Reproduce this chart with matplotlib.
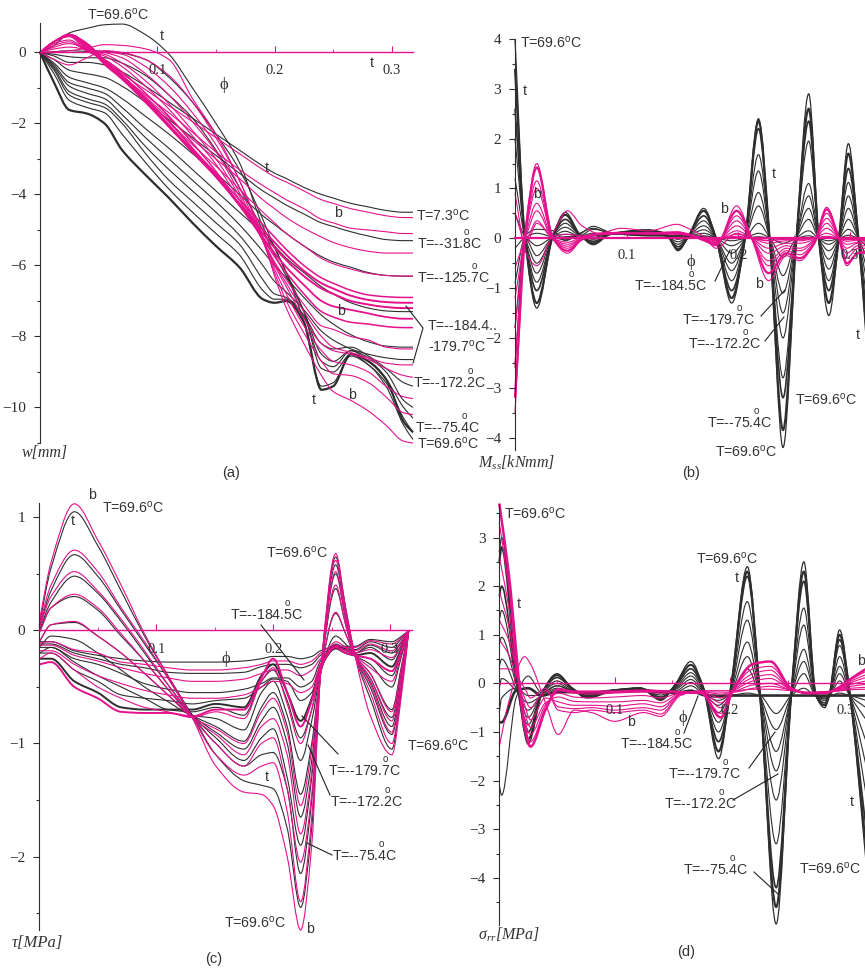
import matplotlib
matplotlib.use('Agg')
import matplotlib.pyplot as plt
import numpy as np
from matplotlib.lines import Line2D
from matplotlib.patches import PathPatch
from matplotlib.path import Path

W, H = 865, 971
BLACK = '#2e2e2e'
PINK = '#e5108c'
SANS = ['Liberation Sans', 'DejaVu Sans']
SERIF = ['Liberation Serif', 'DejaVu Serif']

plt.rcParams['mathtext.fontset'] = 'custom'
plt.rcParams['mathtext.it'] = 'Liberation Serif:italic'
plt.rcParams['mathtext.rm'] = 'Liberation Sans'

# (a) w[mm]
a_phi = [0, .012, .025, .04, .055, .07, .09, .11, .13, .15, .17, .19, .2, .21, .225, .24, .25, .265, .28, .295, .31, .318]
a_black = [
    [0, .2, .55, .68, .78, .8, .5, -.05, -1.0, -2.0, -3.1, -4.9, -5.5, -6.2, -7.6, -9.4, -9.3, -8.55, -8.8, -9.4, -10.5, -10.9],
    [0, .02, .05, .03, .03, -.02, -.2, -.7, -1.4, -2.3, -3.3, -4.7, -5.5, -6.2, -7.3, -8.9, -9.0, -8.5, -8.8, -9.3, -10.3, -10.7],
    [0, -.05, -.12, -.15, -.15, -.3, -.65, -1.2, -1.85, -2.75, -3.8, -5.0, -5.7, -6.3, -7.3, -8.5, -8.7, -8.4, -8.7, -9.2, -10.0, -10.3],
    [0, -.1, -.28, -.28, -.35, -.55, -.95, -1.4, -1.85, -2.3, -2.75, -3.2, -3.4, -3.55, -3.8, -4.0, -4.1, -4.25, -4.35, -4.45, -4.5, -4.5],
    [0, -.2, -.5, -.6, -.7, -.95, -1.4, -1.9, -2.4, -2.9, -3.4, -3.9, -4.1, -4.3, -4.55, -4.8, -4.9, -5.05, -5.17, -5.27, -5.3, -5.3],
    [0, -.3, -.7, -.85, -1.0, -1.3, -1.8, -2.3, -2.85, -3.4, -4.0, -4.6, -4.85, -5.1, -5.45, -5.75, -5.9, -6.05, -6.2, -6.28, -6.3, -6.3],
    [0, -.35, -.85, -1.0, -1.15, -1.55, -2.15, -2.7, -3.3, -3.9, -4.5, -5.1, -5.45, -5.8, -6.2, -6.6, -6.8, -7.05, -7.2, -7.28, -7.3, -7.3],
    [0, -.4, -.95, -1.15, -1.3, -1.75, -2.4, -3.0, -3.6, -4.2, -4.85, -5.6, -6.0, -6.35, -6.9, -7.4, -7.65, -7.95, -8.15, -8.27, -8.3, -8.3],
    [0, -.45, -1.1, -1.3, -1.45, -1.9, -2.65, -3.3, -3.9, -4.5, -5.15, -6.0, -6.45, -6.75, -7.25, -7.85, -8.1, -8.35, -8.5, -8.6, -8.65, -8.65],
    [0, -.5, -1.2, -1.4, -1.55, -2.0, -2.85, -3.6, -4.2, -4.8, -5.4, -6.4, -6.8, -6.9, -7.4, -8.2, -8.35, -8.3, -8.55, -8.9, -9.3, -9.4],
    [0, -.6, -1.35, -1.55, -1.7, -2.3, -3.1, -3.85, -4.5, -5.1, -5.7, -6.7, -6.95, -6.95, -7.45, -8.7, -8.85, -8.4, -8.6, -9.0, -9.8, -10.0],
    [0, -.85, -1.62, -1.72, -2.0, -2.75, -3.45, -4.1, -4.8, -5.45, -6.05, -6.95, -7.05, -7.0, -7.6, -9.5, -9.4, -8.5, -8.7, -9.2, -10.4, -10.7],
]
a_black_lw = [.8, .8, .8, .8, .8, .8, .8, .8, .8, .8, .8, 1.6]
a_pink = [
    [0, .02, .05, .12, .22, .2, .1, -.2, -1.3, -2.3, -3.6, -5.2, -6.3, -7.2, -8.2, -9.1, -9.55, -9.8, -10.1, -10.5, -10.95, -11],
    [0, -.2, -.35, -.15, .05, 0, -.2, -.65, -1.4, -2.4, -3.6, -5.3, -6.2, -7.0, -7.9, -8.7, -9.05, -9.1, -9.3, -9.7, -10.15, -10.2],
    [0, .1, .15, .08, .02, -.05, -.4, -.95, -1.7, -2.6, -3.8, -5.3, -6.1, -6.8, -7.7, -8.4, -8.7, -8.8, -9.0, -9.4, -9.7, -9.75],
    [0, .15, .25, .1, 0, -.15, -.6, -1.2, -1.95, -2.8, -3.95, -5.3, -6.0, -6.6, -7.5, -8.2, -8.4, -8.5, -8.65, -8.9, -9.1, -9.15],
    [0, .2, .3, .05, -.05, -.3, -.8, -1.45, -2.2, -3.0, -4.05, -5.3, -5.95, -6.5, -7.3, -8.0, -8.3, -8.45, -8.6, -8.75, -8.8, -8.8],
    [0, .25, .35, .05, -.1, -.4, -.95, -1.6, -2.35, -3.15, -4.15, -5.3, -5.9, -6.4, -7.1, -7.7, -7.8, -8.0, -8.1, -8.3, -8.35, -8.35],
    [0, .3, .45, .05, -.2, -.55, -1.15, -1.8, -2.55, -3.35, -4.3, -5.25, -5.75, -6.2, -6.8, -7.3, -7.45, -7.6, -7.65, -7.72, -7.75, -7.75],
    [0, .3, .5, .1, -.25, -.65, -1.3, -1.95, -2.7, -3.45, -4.3, -5.2, -5.65, -6.05, -6.55, -7.0, -7.15, -7.25, -7.35, -7.45, -7.5, -7.5],
    [0, .3, .5, .15, -.3, -.7, -1.35, -2.05, -2.8, -3.5, -4.3, -5.1, -5.5, -5.85, -6.3, -6.65, -6.8, -7.0, -7.1, -7.17, -7.2, -7.2],
    [0, .3, .5, .2, -.33, -.75, -1.4, -2.1, -2.8, -3.5, -4.25, -5.0, -5.35, -5.7, -6.15, -6.5, -6.65, -6.85, -6.97, -7.03, -7.05, -7.05],
    [0, .3, .5, .25, -.3, -.72, -1.4, -2.05, -2.75, -3.4, -4.15, -4.85, -5.2, -5.55, -6.0, -6.35, -6.5, -6.7, -6.83, -6.88, -6.9, -6.9],
    [0, .3, .5, .25, -.27, -.68, -1.3, -1.95, -2.6, -3.2, -3.85, -4.5, -4.8, -5.1, -5.45, -5.8, -5.95, -6.1, -6.22, -6.28, -6.3, -6.3],
    [0, .3, .5, .25, -.25, -.65, -1.25, -1.85, -2.45, -3.0, -3.55, -4.15, -4.4, -4.65, -4.95, -5.2, -5.35, -5.5, -5.6, -5.65, -5.65, -5.65],
    [0, .3, .5, .25, -.22, -.65, -1.2, -1.7, -2.25, -2.8, -3.3, -3.75, -3.95, -4.15, -4.4, -4.7, -4.8, -4.95, -5.0, -5.05, -5.1, -5.1],
    [0, .3, .5, .25, -.2, -.6, -1.05, -1.5, -1.95, -2.4, -2.85, -3.3, -3.5, -3.65, -3.9, -4.15, -4.25, -4.4, -4.5, -4.6, -4.65, -4.65],
]
a_pink_lw = [.8, .8, .8, .8, .8, .8, 1.1, 1.3, 1.4, 1.4, 1.1, .8, .8, .8, .8]

# (b) Mss[kNmm]
b_phi_black = [0, .009, .0195, .034, .045, .058, .07, .085, .1, .118, .135, .146, .155, .169, .18, .194, .206, .218, .228, .24, .252, .263, .272, .281, .29, .2985, .3075, .316]
b_black = [
    [4.0, 0, -1.4, .05, .52, .08, -.13, .08, .14, .17, .1, -.25, .02, .6, 0, -1.3, 0, 2.4, 0, -4.2, 0, 2.9, 0, -1.55, 0, 1.9, 0, -2.5],
    [3.4, 0, -1.3, .05, .47, .07, -.1, .08, .13, .16, .08, -.22, .03, .55, 0, -1.2, 0, 2.35, 0, -3.85, 0, 2.6, 0, -1.3, 0, 1.7, 0, -2.2],
    [2.6, 0, -1.05, .05, .38, .07, -.06, .08, .11, .14, .06, -.17, .03, .45, 0, -1.05, 0, 2.2, 0, -3.2, 0, 2.35, 0, -1.05, 0, 1.4, 0, -1.8],
    [2.0, 0, -.88, .05, .3, .07, -.02, .08, .1, .12, .05, -.12, .04, .35, 0, -.85, 0, 1.68, 0, -2.8, 0, 1.95, 0, -.85, 0, 1.12, 0, -1.4],
    [1.2, 0, -.7, .05, .22, .06, .02, .08, .09, .1, .05, -.07, .04, .25, 0, -.65, 0, 1.35, 0, -2.0, 0, 1.1, 0, -.62, 0, .85, 0, -1.0],
    [.5, 0, -.5, .03, .14, .05, .05, .08, .08, .09, .05, -.02, .04, .17, 0, -.5, 0, .92, 0, -1.5, 0, .85, 0, -.42, 0, .6, 0, -.7],
    [-.2, 0, -.35, .02, .08, .05, .1, .09, .08, .07, .05, .02, .04, .1, 0, -.3, 0, .65, 0, -1.1, 0, .6, 0, -.25, 0, .38, 0, -.45],
    [-.9, 0, -.15, .01, .03, .05, .18, .12, .07, .06, .05, .04, .04, .05, 0, -.15, 0, .3, 0, -.75, 0, .38, 0, -.12, 0, .18, 0, -.2],
    [-1.8, 0, .1, .02, -.03, .08, .24, .12, .07, .05, .05, .05, .05, .02, 0, -.05, 0, .1, 0, -.38, 0, .15, 0, -.05, 0, .06, 0, -.08],
    [-2.6, .05, .18, .15, -.05, .1, .2, .1, .08, .05, .05, .05, .05, .03, 0, 0, 0, .03, 0, -.1, 0, .05, 0, 0, 0, .02, 0, -.02],
]
b_black_lw = [.9, 1.5, 1.2, .8, .8, .8, .8, .8, .8, .8]
b_phi_pink = [0, .01, .0195, .034, .047, .06, .075, .095, .12, .145, .155, .17, .18, .1985, .212, .227, .243, .255, .268, .279, .29, .297, .307, .318]
b_pink = [
    [-3.5, .3, 1.5, 0, -.3, -.03, .08, .1, .1, .12, .08, -.05, -.15, .65, 0, -.85, -.35, -.45, -.1, .62, 0, -.55, -.3, -.3],
    [-3.2, .25, 1.42, 0, -.25, -.02, .08, .1, .1, .12, .08, -.05, -.13, .55, 0, -.7, -.3, -.4, -.1, .58, 0, -.5, -.3, -.25],
    [-2.5, .2, 1.15, 0, -.2, -.02, .08, .1, .1, .11, .08, -.04, -.11, .45, 0, -.55, -.25, -.33, -.07, .5, 0, -.4, -.2, -.2],
    [-1.8, .15, 1.0, 0, -.16, 0, .08, .1, .1, .1, .08, -.03, -.09, .35, 0, -.45, -.2, -.25, -.05, .4, 0, -.3, -.15, -.15],
    [-1.2, .1, .7, 0, -.12, 0, .08, .1, .1, .09, .07, -.02, -.07, .25, 0, -.3, -.15, -.2, -.03, .3, 0, -.2, -.1, -.1],
    [-.6, .05, .55, 0, -.08, .02, .08, .1, .09, .09, .07, -.01, -.05, .15, 0, -.2, -.1, -.1, -.02, .2, 0, -.12, -.08, -.07],
    [0, 0, .35, 0, 0, .03, .08, .1, .09, .08, .06, 0, -.03, .08, 0, -.1, -.05, -.05, 0, .1, 0, -.06, -.04, -.04],
    [.5, -.1, .3, .05, .08, .05, .1, .12, .09, .1, .08, 0, -.02, .04, 0, -.04, -.02, -.02, 0, .04, 0, -.03, -.02, -.02],
    [.9, -.3, -.55, .1, .55, .25, .1, .2, .15, .28, .2, .02, -.2, .1, 0, -.05, -.02, -.02, 0, .02, 0, -.02, -.02, -.02],
]
b_pink_lw = [.8, 1.6, .8, .8, .8, .8, .8, .8, .8]

# (c) tau[MPa]
c_phi = [0, .01, .03, .05, .07, .09, .11, .1307, .151, .175, .19, .2, .212, .2235, .233, .2405, .2535, .262, .27, .283, .3015, .31, .316]
c_black = [
    [.05, .55, 1.05, .75, .35, -.05, -.4, -.75, -1.1, -1.33, -1.37, -1.4, -1.75, -2.45, -1.75, -.4, .65, .2, -.22, -.6, -1.05, -.5, 0],
    [.03, .35, .67, .48, .18, -.12, -.42, -.75, -1.0, -1.2, -1.1, -1.08, -1.4, -2.15, -1.5, -.38, .58, .15, -.22, -.5, -.92, -.45, 0],
    [0, .25, .48, .33, .08, -.2, -.48, -.75, -.95, -1.15, -.95, -.87, -1.3, -1.9, -1.3, -.38, .5, .1, -.22, -.45, -.85, -.4, 0],
    [-.02, .2, .3, .18, -.05, -.27, -.52, -.75, -.9, -1.05, -.8, -.68, -1.0, -1.65, -1.15, -.38, .37, .05, -.22, -.42, -.77, -.35, 0],
    [-.1, .05, .07, -.05, -.2, -.38, -.57, -.75, -.85, -.98, -.68, -.55, -.85, -1.45, -1.0, -.38, .15, -.03, -.22, -.38, -.7, -.3, 0],
    [-.15, -.05, -.08, -.2, -.35, -.5, -.63, -.75, -.78, -.88, -.55, -.45, -.75, -1.15, -.8, -.38, -.05, -.12, -.22, -.3, -.5, -.22, 0],
    [-.2, -.15, -.28, -.4, -.5, -.6, -.7, -.72, -.68, -.75, -.45, -.35, -.62, -.95, -.7, -.35, -.12, -.17, -.22, -.25, -.4, -.18, 0],
    [-.25, -.25, -.45, -.55, -.68, -.7, -.7, -.7, -.65, -.68, -.4, -.3, -.55, -.8, -.6, -.33, -.16, -.2, -.22, -.2, -.32, -.15, 0],
    [-.2, -.2, -.35, -.45, -.57, -.6, -.62, -.65, -.62, -.6, -.5, -.43, -.45, -.62, -.55, -.3, -.13, -.18, -.2, -.15, -.26, -.12, 0],
    [-.15, -.15, -.25, -.3, -.38, -.47, -.52, -.55, -.55, -.52, -.47, -.42, -.42, -.5, -.45, -.27, -.14, -.17, -.2, -.13, -.2, -.1, 0],
    [-.12, -.12, -.2, -.25, -.3, -.33, -.37, -.38, -.38, -.37, -.32, -.3, -.3, -.33, -.3, -.22, -.15, -.16, -.17, -.1, -.15, -.07, 0],
    [-.1, -.1, -.18, -.22, -.25, -.27, -.28, -.28, -.28, -.27, -.25, -.23, -.23, -.25, -.23, -.18, -.14, -.14, -.14, -.08, -.1, -.05, 0],
]
c_black_lw = [.8, .8, .8, .8, .8, .8, .8, 1.4, .8, .8, .8, .8]
c_pink = [
    [.08, .6, 1.12, .8, .4, -.03, -.4, -.77, -1.2, -1.43, -1.45, -1.55, -2.0, -2.65, -1.9, -.4, .68, .2, -.22, -.75, -1.1, -.55, 0],
    [.05, .4, .71, .52, .2, -.1, -.42, -.77, -1.1, -1.28, -1.2, -1.17, -1.6, -2.4, -1.65, -.38, .62, .15, -.22, -.55, -1.0, -.48, 0],
    [.02, .3, .52, .35, .1, -.18, -.48, -.77, -1.0, -1.2, -1.0, -.95, -1.4, -2.05, -1.45, -.38, .52, .1, -.22, -.47, -.9, -.42, 0],
    [-.02, .2, .32, .2, -.03, -.27, -.52, -.77, -.92, -1.1, -.85, -.78, -1.1, -1.8, -1.25, -.38, .4, .05, -.22, -.42, -.8, -.38, 0],
    [-.1, .05, .08, -.05, -.2, -.38, -.57, -.77, -.87, -1.0, -.72, -.6, -.9, -1.55, -1.05, -.38, .16, -.03, -.22, -.38, -.72, -.32, 0],
    [-.25, -.2, -.35, -.5, -.6, -.68, -.72, -.77, -.72, -.78, -.45, -.33, -.65, -1.0, -.7, -.36, -.1, -.15, -.22, -.33, -.45, -.2, 0],
    [-.3, -.28, -.5, -.6, -.72, -.73, -.73, -.76, -.7, -.7, -.42, -.25, -.55, -.85, -.62, -.33, -.15, -.2, -.22, -.25, -.36, -.17, 0],
    [-.18, -.18, -.3, -.4, -.47, -.53, -.57, -.6, -.6, -.57, -.5, -.45, -.47, -.55, -.5, -.3, -.14, -.18, -.2, -.17, -.24, -.12, 0],
    [-.13, -.13, -.22, -.27, -.33, -.38, -.42, -.45, -.45, -.43, -.38, -.35, -.35, -.4, -.35, -.25, -.15, -.17, -.18, -.12, -.18, -.09, 0],
    [-.11, -.1, -.17, -.2, -.28, -.3, -.33, -.35, -.35, -.33, -.3, -.27, -.27, -.3, -.27, -.2, -.13, -.15, -.15, -.09, -.12, -.06, 0],
]
c_pink_lw = [.8, .8, .8, .8, .8, .8, 1.4, .8, .8, .8]

# (d) sigma_rr[MPa]
d_phi_black = [0, .002, .0145, .025, .037, .05, .063, .076, .1, .122, .14, .153, .166, .177, .19, .201, .215, .226, .24, .253, .264, .2745, .282, .286, .295, .304, .318]
d_black = [
    [2.7, 3.0, .3, -1.25, -.2, .2, -.1, -.3, -.15, -.1, -.35, 0, .45, -.1, -1.55, 0, 2.4, -.25, -4.95, -.25, 2.5, -.25, -.5, -.25, 1.1, -.25, -3.7],
    [2.5, 2.8, .2, -1.15, -.2, .17, -.1, -.28, -.14, -.1, -.32, -.02, .38, -.1, -1.4, -.05, 2.3, -.25, -4.6, -.25, 2.3, -.25, -.45, -.25, 1.0, -.25, -3.4],
    [1.8, 2.0, .1, -1.0, -.2, .12, -.1, -.25, -.14, -.1, -.28, -.05, .3, -.12, -1.2, -.08, 2.2, -.25, -4.2, -.25, 2.1, -.25, -.4, -.25, .9, -.25, -3.0],
    [1.3, 1.5, .05, -.85, -.2, .05, -.12, -.22, -.14, -.1, -.24, -.08, .22, -.14, -1.0, -.1, 1.68, -.25, -3.3, -.25, 1.55, -.25, -.35, -.25, .78, -.25, -2.3],
    [.8, .95, 0, -.7, -.2, 0, -.14, -.2, -.14, -.1, -.2, -.1, .15, -.16, -.8, -.13, 1.3, -.25, -2.4, -.25, 1.2, -.25, -.32, -.25, .55, -.25, -1.7],
    [.35, .5, -.1, -.55, -.22, -.05, -.15, -.2, -.14, -.12, -.18, -.12, .08, -.18, -.6, -.15, .85, -.25, -1.8, -.25, .7, -.25, -.3, -.25, .35, -.25, -1.2],
    [-.1, .1, -.15, -.4, -.25, -.1, -.16, -.2, -.14, -.13, -.16, -.15, .02, -.2, -.45, -.18, .55, -.25, -1.4, -.25, .45, -.25, -.28, -.25, .2, -.25, -.75],
    [-.6, -.3, -.1, -.25, -.25, -.13, -.17, -.2, -.15, -.14, -.16, -.18, -.05, -.22, -.35, -.2, .3, -.25, -.95, -.25, .2, -.25, -.26, -.25, .05, -.25, -.5],
    [-.8, -.8, -.15, -.1, -.25, -.18, -.18, -.2, -.15, -.15, -.17, -.2, -.15, -.24, -.27, -.25, -.25, -.25, -.25, -.25, -.25, -.25, -.25, -.25, -.25, -.25, -.25],
    [-2.1, -2.3, -.3, .15, -.2, -.05, -.15, -.2, -.15, -.13, -.18, -.2, -.2, -.22, -.24, -.24, -.2, -.25, -.62, -.25, -.1, -.25, -.25, -.25, -.2, -.25, -.35],
]
d_black_lw = [.9, 1.5, 1.2, .8, .8, .8, .8, .8, 1.9, .8]
d_phi_pink = [0, .008, .022, .027, .04, .051, .065, .08, .1, .125, .14, .157, .175, .192, .203, .22, .235, .253, .267, .282, .293, .305, .318]
d_pink = [
    [3.7, 2.3, -.9, -1.3, -.55, -.12, -.17, -.17, -.17, -.15, -.16, -.18, -.2, -.7, -.12, .4, .45, -.1, -.2, -.2, -.1, .1, .3],
    [3.3, 2.0, -.85, -1.2, -.5, -.15, -.2, -.22, -.2, -.18, -.2, -.18, -.2, -.62, -.12, .3, .35, -.1, -.2, -.2, -.1, .08, .25],
    [2.6, 1.6, -.75, -1.05, -.45, -.2, -.28, -.3, -.28, -.25, -.3, -.2, -.2, -.5, -.12, .2, .27, -.12, -.2, -.2, -.12, .05, .18],
    [1.9, 1.2, -.6, -.9, -.4, -.28, -.37, -.38, -.38, -.35, -.4, -.2, -.18, -.4, -.14, .12, .18, -.12, -.2, -.18, -.13, .02, .12],
    [1.3, .9, -.45, -.75, -.3, -.38, -.45, -.45, -.47, -.42, -.48, -.22, -.18, -.3, -.15, .05, .1, -.13, -.2, -.18, -.14, -.02, .05],
    [.9, .6, -.3, -.5, -.15, -.48, -.52, -.5, -.55, -.5, -.55, -.22, -.17, -.22, -.17, -.03, 0, -.14, -.2, -.17, -.15, -.06, -.02],
    [.3, .3, -.1, -.3, -.1, -.55, -.6, -.55, -.6, -.55, -.63, -.23, -.17, -.18, -.18, -.1, -.06, -.14, -.2, -.17, -.15, -.1, -.08],
    [-1.3, -.4, .55, .4, -.4, -1.05, -.55, -.6, -.78, -.6, -.68, -.25, -.15, -.15, -.15, -.12, -.12, -.15, -.18, -.17, -.16, -.13, -.12],
]
d_pink_lw = [1.8, .8, .8, .8, .8, .8, .8, .8]


def px_axes(x0, x1, ytop, ybot):
    return plt.gcf().add_axes([x0 / W, 1 - ybot / H, (x1 - x0) / W, (ybot - ytop) / H])


def smooth_path(x, y):
    # bezier through the read values, flat at the turning points
    x, y = np.asarray(x, float), np.asarray(y, float)
    s = np.diff(y) / np.diff(x)
    m = np.zeros(len(x))
    m[0], m[-1] = s[0], s[-1]
    for i in range(1, len(x) - 1):
        if s[i - 1] * s[i] > 0:
            m[i] = 2 * s[i - 1] * s[i] / (s[i - 1] + s[i])
    verts = [(x[0], y[0])]
    codes = [Path.MOVETO]
    for i in range(len(x) - 1):
        h = (x[i + 1] - x[i]) / 3
        verts += [(x[i] + h, y[i] + m[i] * h), (x[i + 1] - h, y[i + 1] - m[i + 1] * h), (x[i + 1], y[i + 1])]
        codes += [Path.CURVE4] * 3
    return Path(verts, codes)


def draw_curves(ax, phi, rows, color, widths):
    for row, lw in zip(rows, widths):
        ax.add_patch(PathPatch(smooth_path(phi, row), fill=False, edgecolor=color, lw=lw, clip_on=False))


def style_axes(ax, xmax, ymin, ymax, major, minor, pad, zero_lw=1.0):
    ax.set_xlim(0, xmax)
    ax.set_ylim(ymin, ymax)
    ax.patch.set_alpha(0)
    for side in ['top', 'right']:
        ax.spines[side].set_visible(False)
    ax.spines['left'].set_color(BLACK)
    ax.spines['bottom'].set_position(('data', 0))
    ax.spines['bottom'].set_color(PINK)
    ax.spines['bottom'].set_linewidth(zero_lw)
    ax.set_xticks([.1, .2, .3], ['0.1', '0.2', '0.3'], fontfamily=SERIF, fontsize=10.5, color=BLACK)
    ax.set_xticks([.05, .15, .25], minor=True)
    ax.tick_params(axis='x', which='major', direction='in', length=4, color=PINK, pad=pad)
    ax.tick_params(axis='x', which='minor', direction='in', length=2, color=PINK)
    ax.set_yticks(major, [str(v).replace('-', '\u2212') for v in major], fontfamily=SERIF, fontsize=11, color=BLACK)
    ax.set_yticks(minor, minor=True)
    ax.tick_params(axis='y', which='major', length=4, width=.8, color=BLACK, pad=6)
    ax.tick_params(axis='y', which='minor', length=2, width=.8, color=BLACK)
    ax.set_zorder(1)


def txt(x, y, s, size=10.2, family=SANS, **kw):
    kw.setdefault('color', '#333333')
    fig.text(x / W, 1 - y / H, s, fontsize=size, fontfamily=family, zorder=6, **kw)


def temps(items):
    for x, y, s in items:
        txt(x, y + 2, s)


def leader(points):
    xs = [p[0] / W for p in points]
    ys = [1 - p[1] / H for p in points]
    fig.add_artist(Line2D(xs, ys, color='#222222', lw=.8, zorder=5))


T_696 = r'T=69.6$^{\mathrm{o}}$C'
T_73 = r'T=7.3$^{\mathrm{o}}$C'
T_318 = r'T=--31.$\overset{\mathrm{o}}{\mathrm{8}}$C'
T_1257 = r'T=--125.$\overset{\mathrm{o}}{\mathrm{7}}$C'
T_1797 = r'-179.7$^{\mathrm{o}}$C'
T_1845 = r'T=--184.$\overset{\mathrm{o}}{\mathrm{5}}$C'
T_1797b = r'T=--179.$\overset{\mathrm{o}}{\mathrm{7}}$C'
T_1722 = r'T=--172.$\overset{\mathrm{o}}{\mathrm{2}}$C'
T_754 = r'T=--75.$\overset{\mathrm{o}}{\mathrm{4}}$C'

fig = plt.figure(figsize=(W / 100, H / 100), dpi=100)

ax_a = px_axes(40, 413, 23, 443)
style_axes(ax_a, .318, -11.0, .83, [0, -2, -4, -6, -8, -10], np.arange(-11, 1, 1), 8)
draw_curves(ax_a, a_phi, a_black, BLACK, a_black_lw)
draw_curves(ax_a, a_phi, a_pink, PINK, a_pink_lw)

ax_b = px_axes(515, 865, 39, 450)
style_axes(ax_b, .3134, -4.25, 4.0, [4, 3, 2, 1, 0, -1, -2, -3, -4], np.arange(-4, 4.5, .5), 8, 1.6)
draw_curves(ax_b, b_phi_black, b_black, BLACK, b_black_lw)
draw_curves(ax_b, b_phi_pink, b_pink, PINK, b_pink_lw)

ax_c = px_axes(39.3, 411.7, 502.7, 930)
style_axes(ax_c, .3185, -2.65, 1.13, [1, 0, -1, -2], np.arange(-2.5, 1.5, .5), 9)
draw_curves(ax_c, c_phi, c_black, BLACK, c_black_lw)
draw_curves(ax_c, c_phi, c_pink, PINK, c_pink_lw)

ax_d = px_axes(499.3, 865, 504, 925)
style_axes(ax_d, .317, -4.97, 3.69, [3, 2, 1, 0, -1, -2, -3, -4], np.arange(-4.5, 4, .5), 15)
draw_curves(ax_d, d_phi_black, d_black, BLACK, d_black_lw)
draw_curves(ax_d, d_phi_pink, d_pink, PINK, d_pink_lw)

# panel (a) annotations
temps([(87, 19, T_696), (416, 220, T_73), (417, 248, T_318), (417, 282, T_1257), (428, 328, 'T=--184.4..'),
       (428, 351, T_1797), (413, 387, T_1722), (415, 432, T_754), (417, 448, T_696)])
leader([(406, 306), (423, 328), (413, 363)])
# panel (b) annotations
temps([(520, 47, T_696), (634, 290, T_1845), (682, 324, T_1797b), (688, 348, T_1722),
       (795, 404, T_696), (707, 427, T_754), (715, 456, T_696)])
leader([(715, 281), (730, 250)])
leader([(761, 316), (785, 290)])
leader([(765, 341), (784, 317)])
# panel (c) annotations
temps([(102, 512, T_696), (266, 557, T_696), (230, 619, T_1845), (328, 775, T_1797b), (330, 806, T_1722),
       (332, 860, T_754), (224, 927, T_696), (407, 750, T_696)])
leader([(261, 625), (304, 680)])
leader([(338, 754), (302, 716)])
leader([(330, 795), (308, 745)])
leader([(332, 855), (307, 843)])
# panel (d) annotations
temps([(504, 518, T_696), (696, 563, T_696), (620, 748, T_1845), (668, 778, T_1797b), (664, 808, T_1722),
       (683, 874, T_754), (799, 873, T_696)])
leader([(684, 733), (698, 696)])
leader([(749, 768), (775, 732)])
leader([(733, 800), (778, 774)])
leader([(754, 872), (778, 894)])

# t / b markers
t_marks = [(162, 36), (267, 168), (372, 63), (314, 400), (525, 91), (774, 174), (858, 335),
           (73, 521), (267, 777), (737, 578), (519, 604), (852, 802)]
b_marks = [(338, 213), (341, 311), (352, 395), (537, 194), (724, 209), (759, 284), (92, 495), (310, 929),
           (631, 722), (861, 661)]
for x, y in t_marks:
    txt(x, y, 't', ha='center', va='center')
for x, y in b_marks:
    txt(x, y, 'b', ha='center', va='center')

# phi symbols
for x, y in [(224, 85), (691, 262), (226, 659), (683, 718)]:
    txt(x, y, '\u03d5', size=12, family=SERIF, ha='center', va='center')

# axis names and panel letters
txt(22, 457, 'w[mm]', size=11.5, family=SERIF, style='italic')
txt(478, 468, 'M$_{ss}$[kNmm]', size=11.5, family=SERIF, style='italic')
txt(12, 947, '\u03c4[MPa]', size=12, family=SERIF, style='italic')
txt(478, 940, '\u03c3$_{rr}$[MPa]', size=11.5, family=SERIF, style='italic')
for x, y, s in [(231, 473, '(a)'), (691, 473, '(b)'), (214, 959, '(c)'), (686, 952, '(d)')]:
    txt(x, y, s, size=10.5, ha='center', va='center')

fig.savefig('out.png', dpi=100)
